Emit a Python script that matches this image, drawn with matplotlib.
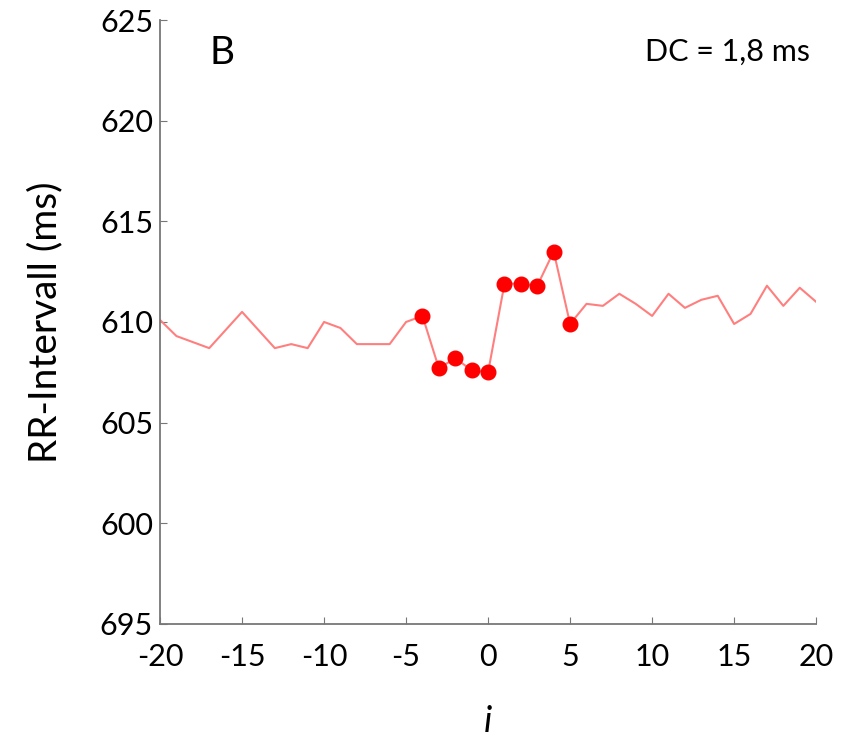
import matplotlib.pyplot as plt
import numpy as np

plt.rcParams['font.family'] = ['Lato', 'DejaVu Sans']

# RR-intervals around the index beat
idx = np.arange(-20, 21)
rr = [610.1, 609.3, 609.0, 608.7, 609.6, 610.5, 609.6, 608.7, 608.9, 608.7,
      610.0, 609.7, 608.9, 608.9, 608.9, 610.0, 610.3, 607.7, 608.2, 607.6,
      607.5, 611.9, 611.9, 611.8, 613.5, 609.9, 610.9, 610.8, 611.4, 610.9,
      610.3, 611.4, 610.7, 611.1, 611.3, 609.9, 610.4, 611.8, 610.8, 611.7,
      611.0]
hl_idx = np.arange(-4, 6)
hl_rr = rr[16:26]

ytick_vals = [595, 600, 605, 610, 615, 620, 625]
ytick_labels = ['695', '600', '605', '610', '615', '620', '625']
xtick_vals = np.arange(-20, 21, 5)

fig = plt.figure(figsize=(8.44, 7.41), dpi=100)
ax = fig.add_axes([0.1896, 0.158, 0.7774, 0.815])

ax.plot(idx, rr, color='#ff7f7f', lw=1.5)
ax.plot(hl_idx, hl_rr, 'o', color='#ff0000', ms=10.5, mec='#ff0000')

ax.set_xlim(-20, 20)
ax.set_ylim(595, 625)
ax.set_xticks(xtick_vals)
ax.set_xticklabels([str(v) for v in xtick_vals])
ax.set_yticks(ytick_vals)
ax.set_yticklabels(ytick_labels)
ax.tick_params(direction='in', length=5, color='#777777', labelsize=22)
ax.tick_params(axis='x', pad=14)
ax.tick_params(axis='y', pad=5)

for s in ['top', 'right']:
    ax.spines[s].set_visible(False)
for s in ['left', 'bottom']:
    ax.spines[s].set_color('#777777')
    ax.spines[s].set_linewidth(1.3)

ax.set_ylabel('RR-Intervall (ms)', fontsize=28, labelpad=26)
ax.set_xlabel('i', fontsize=26, style='italic', labelpad=24)

ax.text(0.075, 0.975, 'B', transform=ax.transAxes, fontsize=28, va='top', ha='left')
ax.text(0.99, 0.97, 'DC = 1,8 ms', transform=ax.transAxes, fontsize=22, va='top', ha='right')

fig.savefig('out.png', dpi=100)
